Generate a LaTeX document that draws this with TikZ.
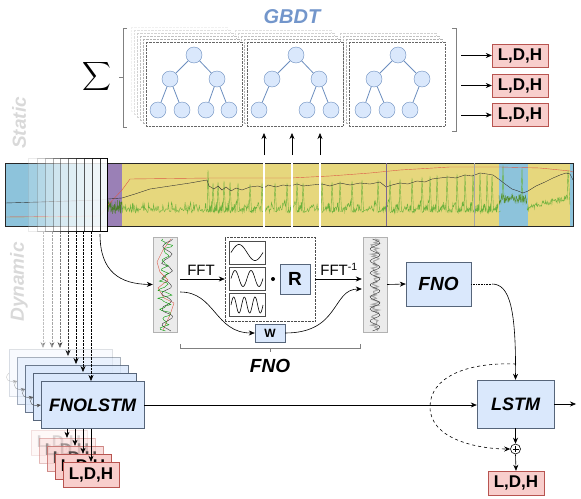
\documentclass[tikz,border=0pt]{standalone}
\usepackage{fontspec}
\setsansfont{Liberation Sans}
\usetikzlibrary{arrows.meta,calc}

\definecolor{boxfill}{HTML}{DAE8FC}
\definecolor{boxline}{HTML}{56657A}
\definecolor{treeline}{HTML}{6C8EBF}
\definecolor{outfill}{HTML}{F8CECC}
\definecolor{ldhline}{HTML}{B85450}
\definecolor{gbdtblue}{HTML}{7396CB}
\definecolor{tsblue}{HTML}{8DC3DB}
\definecolor{tsyellow}{HTML}{E6D77D}
\definecolor{tspurple}{HTML}{9A80B6}
\definecolor{tsred}{HTML}{DC5A48}
\definecolor{tsgreen}{HTML}{6BB13C}

\tikzset{
	block/.style={draw=boxline, fill=boxfill, inner sep=0pt, font=\sffamily\bfseries\itshape\fontsize{18}{18}\selectfont},
	ldh/.style={draw=ldhline, fill=outfill, minimum width=56, minimum height=23, inner sep=0pt, font=\sffamily\bfseries\fontsize{17}{17}\selectfont},
	leaf/.style={circle, draw=treeline, fill=boxfill, minimum size=16, inner sep=0pt},
	branch/.style={treeline, thick},
	card/.style={draw=black!60, densely dotted, fill=white},
	wave/.style={draw=black!70, fill=white, inner sep=0pt, minimum width=36, minimum height=23},
	sig/.style={draw=black!30, fill=black!8, inner sep=0pt, minimum width=24, minimum height=95},
}

\begin{document}
\begin{tikzpicture}[x=1pt, y=-1pt, >={Stealth[length=6pt, width=5pt]}, font=\sffamily]
	\path[use as bounding box] (0,0) rectangle (581,498);
	\pgfmathsetseed{42}
	
	% GBDT
	\node[font=\sffamily\bfseries\itshape\fontsize{20}{20}\selectfont, text=gbdtblue] (gbdt) at (292,17) {GBDT};
	\node[scale=2] (sum) at (97,76) {$\displaystyle\sum$};
	\draw[black!50] (127,28) -- (123,28) -- (123,127) -- (127,127) (123,77) -- (119,77);
	\draw[black!50] (452,28) -- (456,28) -- (456,131) -- (452,131);
	
	% Stacked trees
	\foreach \px/\n in {349/3, 247/4, 146/5} {
		\foreach \j in {\n,...,1} {
			\pgfmathsetmacro\op{0.6-0.1*\j}
			\draw[card, draw opacity=\op] ({\px-3*\j},{42-3*\j}) rectangle +(96,84);
		}
		\draw[card] (\px,42) rectangle +(96,84);
	}
	\foreach \nm/\cx/\cy in {a0/194/55, a1/170/79, a2/217/79, a3/158/110, a4/182/110, a5/206/110, a6/229/110,
		b0/296/55, b1/272/79, b2/319/79, b3/259/110, b4/307/110, b5/331/110,
		c0/398/55, c1/374/79, c2/422/79, c3/363/110, c4/387/110, c5/410/110}
		\node[leaf] (\nm) at (\cx,\cy) {};
	\foreach \u/\v in {a0/a1, a0/a2, a1/a3, a1/a4, a2/a5, a2/a6, b0/b1, b0/b2, b1/b3, b2/b4, b2/b5, c0/c1, c0/c2, c1/c3, c1/c4, c2/c5}
		\draw[branch] (\u) -- (\v);
	
	% Static outputs
	\foreach \i/\y in {1/55.5, 2/85.5, 3/115} {
		\node[ldh] (gb\i) at (520,\y) {L,D,H};
		\coordinate (gs\i) at (461,\y);
		\draw[->, semithick] (gs\i) -- (gb\i);
	}
	\foreach \x in {264,292,320}
		\draw[->, semithick] (\x,155) -- (\x,133);
	
	% Time series
	\begin{scope}
		\clip (5,163) rectangle (573,226);
		\fill[tsblue] (5,163) rectangle (108,226);
		\fill[tspurple] (108,163) rectangle (122,226);
		\fill[tsyellow] (122,163) rectangle (499,226);
		\fill[tsblue] (499,163) rectangle (528,226);
		\fill[tsyellow] (528,163) rectangle (570,226);
		\fill[tsblue] (570,163) rectangle (573,226);
		
		% Green
		\draw[tsgreen!60, opacity=0.7] (5,217) -- (108,218);
		\draw[tsgreen!70!black] plot[domain=108:122, samples=40] (\x, {214-14*rnd});
		\draw[tsgreen] plot[domain=122:208, samples=140] (\x, {213-4*rnd-9*rnd^3});
		\foreach \s/\h [remember=\s as \p (initially 208)] in {213/183, 218/182, 224/181, 230/182, 238/183, 250/184, 262/183, 275/183, 287/183,
			297/182, 303/183, 322/182, 332/182, 340/181, 352/181, 362/180, 378/180, 390/180, 400/179, 412/178,
			422/177, 430/176, 437/175, 447/175, 457/174, 465/174, 473/174, 480/173, 487/174, 492/175, 499/212} {
			\draw[tsgreen] plot[domain=\p:\s-1, samples=24] (\x, {213-2*rnd-(\x-\p)/(\s-\p)*14*rnd});
			\draw[tsgreen] (\s-1,212) -- (\s,\h) -- (\s+1.5,211);
		}
		\draw[tsgreen] (207,212) -- (208,170) -- (209.5,211);
		\draw[tsgreen!80!black] plot[domain=499:527, samples=60] (\x, {194+10*rnd});
		\draw[tsgreen] (502,200) -- (503,165) -- (504,200) (521,200) -- (522,168) -- (523,205);
		\draw[tsgreen] plot[domain=527:568, samples=80] (\x, {211-(\x-527)*0.25-6*rnd});
		\draw[tsgreen] (567,200) -- (568,170) -- (570,205);
		
		% Red
		\draw[tsred] (5,217) -- (100,216) -- (108,205) -- (122,190) -- (130,179) -- (210,178) -- (290,178)
			-- (330,176) -- (370,173) -- (400,170) -- (450,167) -- (500,167) -- (540,168) -- (570,171) -- (573,172);
		
		% Black
		\draw[black!80] (5,203) -- (40,202) -- (70,201) -- (100,200) -- (108,199) -- (122,198) -- (135,194)
			-- (150,189) -- (170,186) -- (190,183) -- (207,180) -- (209,186) -- (214,189) -- (218,186) -- (222,190)
			-- (226,187) -- (231,191) -- (236,188) -- (242,190) -- (250,187) -- (258,186) -- (264,188) -- (268,185)
			-- (276,187) -- (283,185) -- (290,186) -- (297,184) -- (303,186) -- (312,185) -- (322,184) -- (330,186)
			-- (340,183) -- (350,185) -- (360,183) -- (370,184) -- (380,182) -- (386,187) -- (392,185) -- (400,183)
			-- (408,184) -- (417,181) -- (425,182) -- (432,179) -- (440,178) -- (448,177) -- (456,178) -- (465,175)
			-- (472,176) -- (480,173) -- (487,174) -- (493,175) -- (500,180) -- (505,184) -- (512,189) -- (518,191)
			-- (523,193) -- (528,191) -- (536,186) -- (545,182) -- (553,178) -- (560,175) -- (566,173) -- (570,174)
			-- (573,180);
	\end{scope}
	\draw[black!85, thick] (5,163) rectangle (573,226);
	\draw[tspurple!80!black, semithick] (386,163) -- (386,226);
	\draw[black!35] (474,163) -- (474,226);
	\foreach \x in {264,292,320} {
		\draw[black!25, line width=2.4pt] (\x,162) -- (\x,228);
		\draw[white, line width=1.6pt] (\x,162) -- (\x,228);
	}
	
	% Sliding windows
	\foreach \wx [count=\k] in {28,37,45,53,60,68,76,84,92,100} {
		\pgfmathsetmacro\op{0.08*\k}
		\draw[fill=white, fill opacity=0.2, draw opacity=\op] (\wx,158) rectangle (107,231);
	}
	\node[rotate=90, text=black!15, font=\sffamily\bfseries\itshape\fontsize{19}{19}\selectfont] (static) at (19,123) {Static};
	\node[rotate=90, text=black!15, font=\sffamily\bfseries\itshape\fontsize{19}{19}\selectfont] (dynamic) at (19,282) {Dynamic};
	
	% FNOLSTM stack
	\foreach \k/\op in {4/0.2, 3/0.5, 2/0.85, 1/1}
		\node[block, minimum width=103, minimum height=47, opacity=\op] (fl\k) at ({92.5-8*\k},{405-8*\k}) {};
	\node[block, minimum width=103, minimum height=47, alias=fl0] (fnolstm) at (92.5,405) {FNOLSTM};
	\foreach \k/\j/\op in {4/3/0.3, 3/2/0.5, 2/1/0.8, 1/0/1}
		\draw[-{Stealth[length=4pt, width=3.5pt]}, black!70, opacity=\op] (fl\k.west) .. controls +(-6,7) and +(-7,1) .. (fl\j.west);
	\foreach \dx/\dy/\op in {43/348/0.25, 52/348/0.35, 60/348/0.5, 68/356/0.8, 76/364/1, 83/372/1, 91/381/1}
		\draw[->, densely dotted, opacity=\op] (\dx,232) -- (\dx,\dy);
	
	% Dynamic outputs
	\foreach \k/\op in {4/0.15, 3/0.35, 2/0.65, 1/1}
		\node[ldh, minimum height=25, opacity=\op] (lo\k) at ({91-8*\k},{474.5-8*\k}) {L,D,H};
	\node[ldh, minimum height=25, alias=lo0] (ldhf) at (91,474.5) {L,D,H};
	\foreach \k in {3,2,1,0}
		\draw[->, semithick] (fnolstm.south -| lo\k.north) -- (lo\k.north);
	
	% FNO layer
	\node[sig] (sigin) at (165,284.5) {};
	\draw[tsred] (171,239) -- (163,250) -- (157,262) -- (160,272) -- (168,280) -- (158,288) -- (164,298) -- (174,303) -- (170,315) -- (163,330);
	\draw[black!80] plot[domain=239:331, samples=50] ({166+5*sin(\x*23)+2*rnd}, \x);
	\draw[green!60!black] plot[domain=239:331, samples=60] ({165+9*sin(\x*37)*rnd}, \x);
	\node[sig] (sigout) at (375,284.5) {};
	\draw[black!35, line width=1pt] plot[domain=239:331, samples=80] ({375+8*(rnd-0.5)}, \x);
	\draw[black!80] plot[domain=239:331, samples=60] ({375+5*sin(\x*30)}, \x);
	
	\node[draw=black!70, densely dotted, minimum width=90, minimum height=84, inner sep=0pt] (modes) at (270,279) {};
	\foreach \k/\yc in {1/252.5, 2/278.5, 3/305} {
		\node[wave] (w\k) at (247,\yc) {};
		\draw[semithick] plot[domain=0:32, samples=60] ({231+\x}, {\yc-8*sin(11.25*\k*\x)});
	}
	\node[circle, fill, inner sep=0pt, minimum size=4] (dot) at (273,279) {};
	\node[block, minimum width=30, minimum height=30, font=\sffamily\bfseries\fontsize{19}{19}\selectfont] (R) at (295,279) {R};
	\node[block, minimum width=30, minimum height=18, font=\sffamily\bfseries\fontsize{12}{12}\selectfont] (W) at (270,333) {W};
	
	\coordinate (winout) at (100,234);
	\draw[->, semithick] (winout) .. controls (100,272) and (120,284) .. (sigin.west);
	\draw[->, semithick, shorten <=3pt] (sigin.east |- modes.west) -- node[above, font=\sffamily\fontsize{15}{15}\selectfont] {FFT} (modes.west);
	\draw[->, semithick, shorten >=1pt] (modes.east) -- node[above, font=\sffamily\fontsize{15}{15}\selectfont] {FFT\textsuperscript{-1}} (sigout.west |- modes.east);
	\draw[->, semithick] ($(sigin.east)+(3,7.5)$) .. controls +(35,0) and +(-40,0) .. (W.west);
	\draw[->, semithick] (W.east) .. controls +(55,0) and +(-30,0) .. ($(sigout.west)+(-1,4.5)$);
	
	% FNO bracket
	\draw[black!50] (180,344) -- (180,348) -- (360,348) -- (360,344) (270,348) -- (270,352);
	\node[font=\sffamily\bfseries\itshape\fontsize{19}{19}\selectfont] (fnolbl) at (270,366) {FNO};
	
	% FNO + LSTM
	\node[block, minimum width=65, minimum height=44, font=\sffamily\bfseries\itshape\fontsize{19}{19}\selectfont] (fno) at (438.5,284) {FNO};
	\node[block, minimum width=77, minimum height=48] (lstm) at (515.5,404) {LSTM};
	\node[circle, draw, semithick, minimum size=10, inner sep=0pt] (plus) at (515.5,449) {};
	\draw[semithick] ($(plus.center)+(-3,0)$) -- ($(plus.center)+(3,0)$) ($(plus.center)+(0,-3)$) -- ($(plus.center)+(0,3)$);
	\node[ldh, minimum height=24] (ldhout) at (516,483) {L,D,H};
	\coordinate (fnoend) at (492,284);
	\coordinate (skip) at (516,364);
	\coordinate (lstmout) at (576,404);
	
	\draw[->, semithick] (sigout.east) -- (fno.west);
	\draw[densely dotted, semithick] (fno.east) -- (fnoend);
	\draw[->, semithick] (fnoend) .. controls (510,284) and (516,310) .. (lstm.north);
	\draw[->, semithick, dashed] (skip) .. controls (465,362) and (430,378) .. (430,407) .. controls (430,440) and (480,449) .. (plus.west);
	\draw[->, semithick] (fnolstm.east) -- (fnolstm.east -| lstm.west);
	\draw[->, semithick] (lstm.east) -- (lstmout);
	\draw[->, semithick] (lstm.south) -- (plus.north);
	\draw[->, semithick] (plus.south) -- (ldhout.north);
\end{tikzpicture}
\end{document}
